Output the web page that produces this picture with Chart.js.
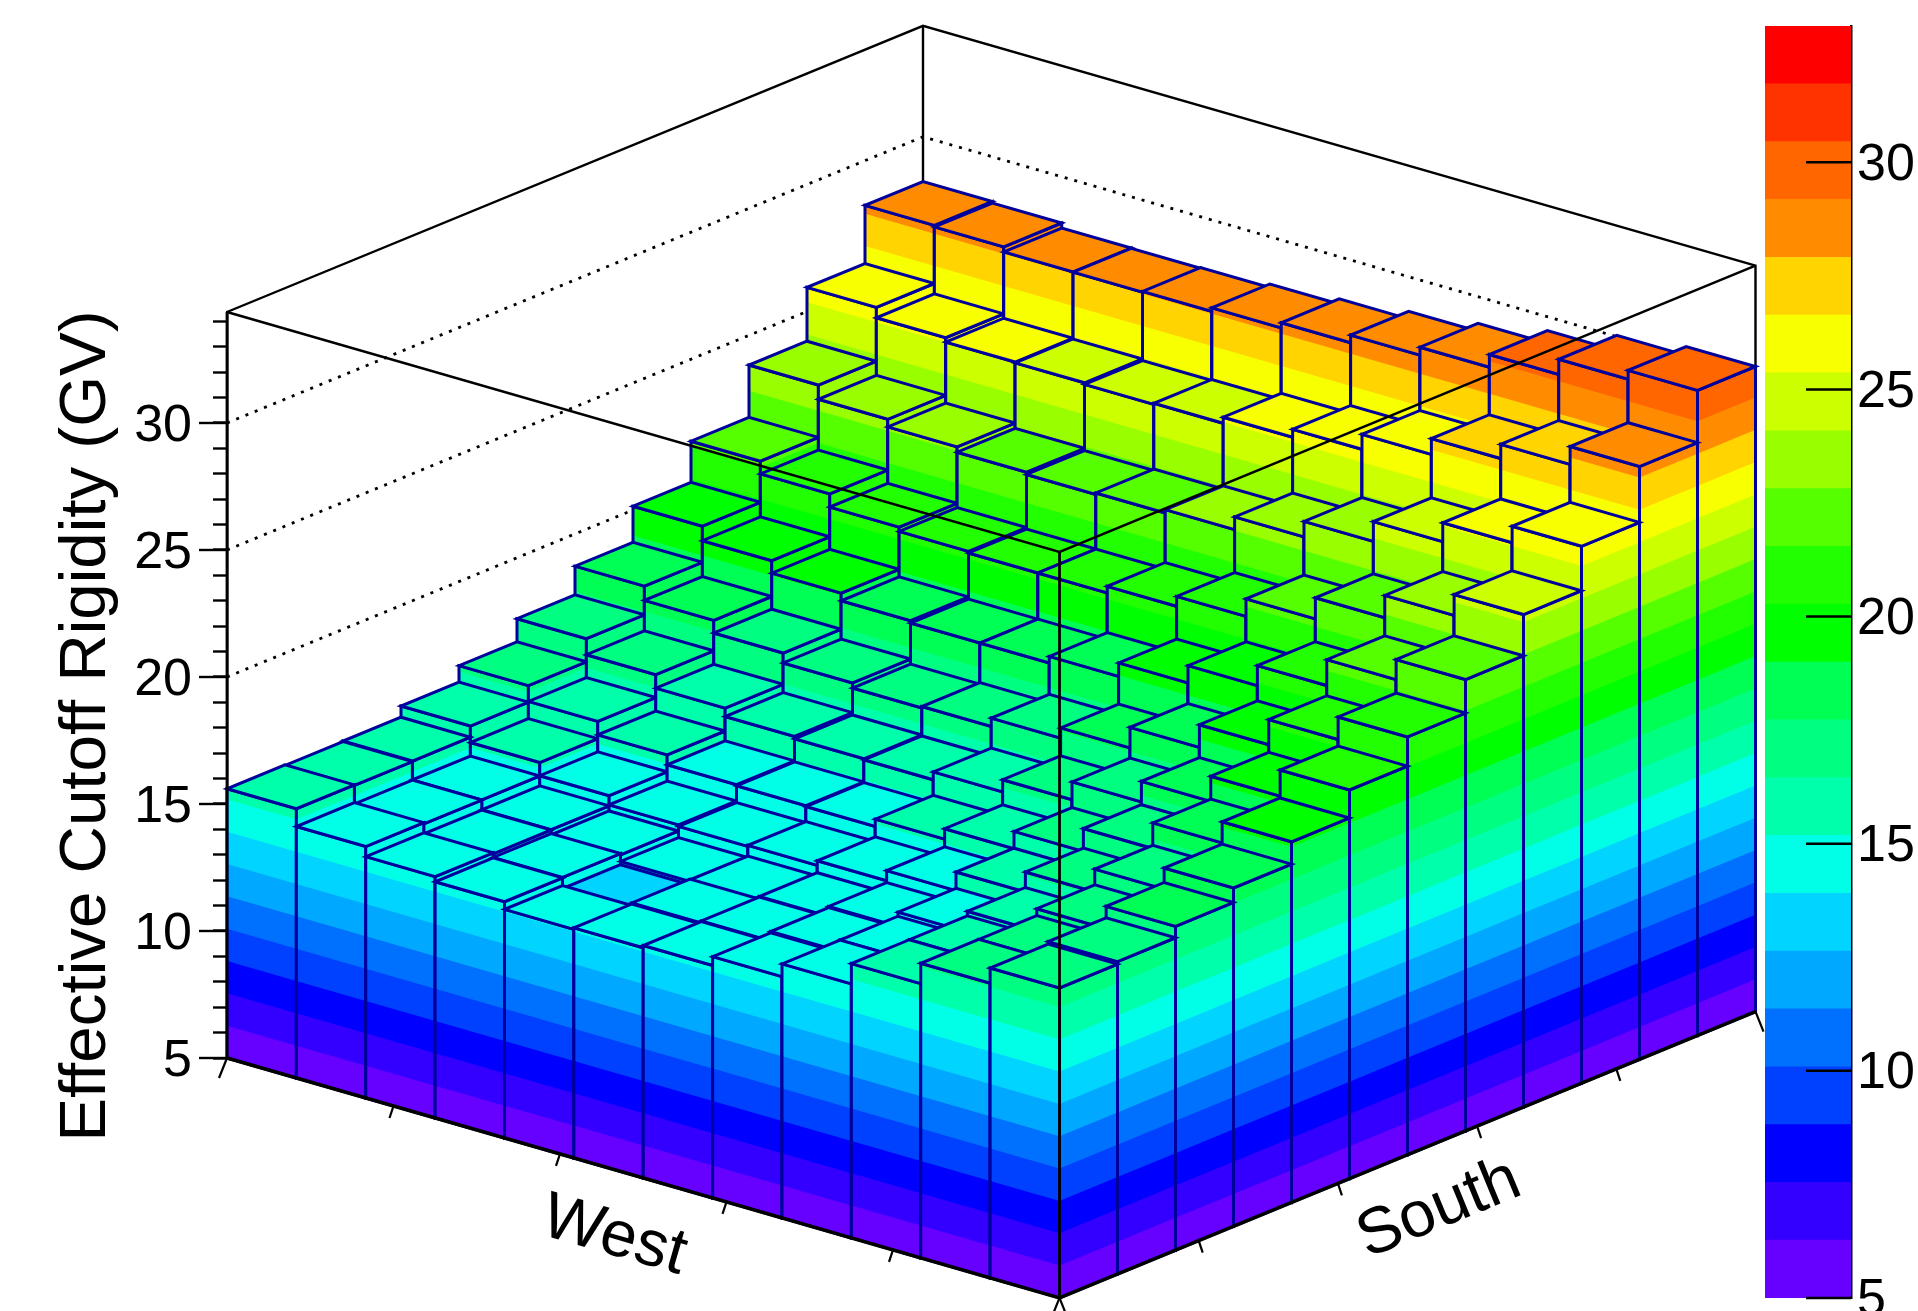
<!DOCTYPE html>
<html>
<head>
<meta charset="utf-8">
<style>
  html, body { margin: 0; background: #fff; }
  canvas { position: absolute; top: 0; }
  #lego { left: 0; }
  #palette { left: 1765px; }
</style>
<script src="https://cdn.jsdelivr.net/npm/chart.js@4"></script>
</head>
<body>
<canvas id="lego" width="1918" height="1311"></canvas>
<canvas id="palette" width="153" height="1311"></canvas>
<script>
// bar heights in GV, one list per South bin, West bin 0 first (front corner)
const south0 = [17.2, 16.6, 15.8, 15.0, 14.5, 14.15, 14.06, 14.0, 14.3, 14.5, 14.9, 15.6]
const south1 = [17.3, 16.6, 15.8, 15.0, 14.55, 14.18, 14.1, 13.88, 14.32, 14.46, 14.85, 15.58]
const south2 = [17.75, 16.87, 15.98, 15.16, 14.6, 14.2, 14.07, 14.01, 14.27, 14.47, 14.86, 15.6]
const south3 = [18.32, 17.49, 16.59, 15.8, 15.07, 14.67, 14.49, 14.45, 14.51, 14.87, 15.39, 16.04]
const south4 = [19.2, 18.37, 17.36, 16.46, 15.78, 15.37, 15.08, 15.11, 15.15, 15.54, 16.07, 16.69]
const south5 = [20.3, 19.27, 18.28, 17.47, 16.77, 16.29, 15.98, 16.02, 16.11, 16.44, 16.97, 17.6]
const south6 = [21.45, 20.56, 19.57, 18.68, 17.87, 17.47, 17.14, 17.08, 17.28, 17.67, 18.17, 18.73]
const south7 = [22.77, 21.98, 20.96, 20.17, 19.49, 18.96, 18.7, 18.7, 18.79, 19.09, 19.58, 20.15]
const south8 = [24.39, 23.57, 22.69, 21.86, 21.17, 20.78, 20.52, 20.52, 20.58, 20.75, 21.27, 21.77]
const south9 = [26.14, 25.49, 24.75, 23.97, 23.36, 22.86, 22.73, 22.67, 22.76, 22.97, 23.27, 23.83]
const south10 = [28.34, 27.64, 27.08, 26.46, 25.87, 25.56, 25.32, 25.28, 25.34, 25.37, 25.54, 25.95]
const south11 = [30.4, 30.05, 29.45, 28.95, 28.64, 28.34, 28.14, 28.0, 27.97, 27.98, 28.18, 28.24]
const rows = [south0, south1, south2, south3, south4, south5, south6, south7, south8, south9, south10, south11]

// palette, lowest band first
const bandColors = ['#6600ff', '#3300ff', '#0000ff', '#0040ff', '#0070ff', '#00a8ff', '#00d4ff', '#00ffe6',
  '#00ffaa', '#00ff80', '#00ff55', '#00ff00', '#22ff00', '#55ff00', '#99ff00', '#ccff00',
  '#f8ff00', '#ffd400', '#ff8c00', '#ff6600', '#ff3300', '#ff0000']
const zMin = 5
const paletteMax = 33
const boxTop = 34.37
const gridZ = [10, 15, 20, 25, 30]

const FONT = '"Liberation Sans", Arial, sans-serif'
const EDGE = '#00009c'
const nBins = 12
const bandStep = (paletteMax - zMin) / bandColors.length

// oblique view: how far one bin moves across the page and up the z scale
const cellWest = 69.375, cellSouth = 58
const liftWest = 0.787, liftSouth = 0.939

function bandOf(z) {
  return Math.min(bandColors.length - 1, Math.floor((z - zMin) / bandStep))
}

const legoPlugin = {
  id: 'lego',
  afterDraw(chart) {
    const ctx = chart.ctx
    const sx = chart.scales.x, sz = chart.scales.y
    const pt = (a, b, z) => [
      sx.getPixelForValue(cellWest * (nBins - a) + cellSouth * b),
      sz.getPixelForValue(z - liftWest * (nBins - a) + liftSouth * b)
    ]
    const poly = pts => {
      ctx.beginPath()
      pts.forEach((p, i) => i ? ctx.lineTo(p[0], p[1]) : ctx.moveTo(p[0], p[1]))
      ctx.closePath()
    }
    const line = (pts, w, dash) => {
      ctx.beginPath()
      pts.forEach((p, i) => i ? ctx.lineTo(p[0], p[1]) : ctx.moveTo(p[0], p[1]))
      ctx.strokeStyle = '#000'
      ctx.lineWidth = w
      ctx.setLineDash(dash || [])
      ctx.stroke()
      ctx.setLineDash([])
    }

    ctx.save()
    ctx.lineJoin = 'miter'

    // back walls
    line([pt(nBins, 0, boxTop), pt(nBins, nBins, boxTop), pt(0, nBins, boxTop), pt(0, nBins, zMin)], 2.4)
    line([pt(nBins, nBins, boxTop), pt(nBins, nBins, zMin)], 2.4)
    gridZ.forEach(z => line([pt(nBins, 0, z), pt(nBins, nBins, z), pt(0, nBins, z)], 2.8, [3, 7]))

    // bars, back to front
    const face = (p, q, h) => {
      for (let k = 0; k <= bandOf(h); k++) {
        const lo = zMin + k * bandStep
        poly([pt(p[0], p[1], lo), pt(q[0], q[1], lo), pt(q[0], q[1], h), pt(p[0], p[1], h)])
        ctx.fillStyle = bandColors[k]
        ctx.fill()
      }
      poly([pt(p[0], p[1], zMin), pt(q[0], q[1], zMin), pt(q[0], q[1], h), pt(p[0], p[1], h)])
      ctx.strokeStyle = EDGE
      ctx.lineWidth = 3
      ctx.stroke()
    }
    for (let a = nBins - 1; a >= 0; a--) {
      for (let b = nBins - 1; b >= 0; b--) {
        const h = rows[b][a]
        face([a + 1, b], [a, b], h)
        face([a, b], [a, b + 1], h)
        poly([pt(a + 1, b, h), pt(a, b, h), pt(a, b + 1, h), pt(a + 1, b + 1, h)])
        ctx.fillStyle = bandColors[bandOf(h)]
        ctx.fill()
        ctx.strokeStyle = EDGE
        ctx.lineWidth = 3
        ctx.stroke()
      }
    }

    // front of the box goes over the bars
    line([pt(nBins, 0, boxTop), pt(0, 0, boxTop), pt(0, nBins, boxTop)], 2.4)
    line([pt(0, 0, boxTop), pt(0, 0, zMin)], 2.8)
    line([pt(nBins, 0, zMin), pt(0, 0, zMin), pt(0, nBins, zMin)], 3.5)
    line([pt(nBins, 0, boxTop), pt(nBins, 0, zMin)], 2.8)

    // long ticks on the z axis
    sz.ticks.forEach(t => {
      if (t.value % 5 === 0) {
        const y = sz.getPixelForValue(t.value)
        line([[chart.chartArea.left - 28, y], [chart.chartArea.left, y]], 2.4)
      }
    })

    // ticks on the two floor axes, five divisions each; the corner ones are longer
    for (let i = 0; i <= 5; i++) {
      const long = i === 0 || i === 5
      const dx = long ? 8 : 4
      const dy = long ? 20 : 12
      const w = pt(nBins * i / 5, 0, zMin)
      line([w, [w[0] - dx, w[1] + dy]], 2.2)
      const s = pt(0, nBins * i / 5, zMin)
      line([s, [s[0] + dx, s[1] + dy]], 2.2)
    }

    // titles
    const label = (text, x, y, angle, size) => {
      ctx.save()
      ctx.translate(x, y)
      ctx.rotate(angle)
      ctx.font = size + 'px ' + FONT
      ctx.fillStyle = '#000'
      ctx.textAlign = 'center'
      ctx.textBaseline = 'alphabetic'
      ctx.fillText(text, 0, 0)
      ctx.restore()
    }
    label('Effective Cutoff Rigidity (GV)', 105, 726, -Math.PI / 2, 65.5)
    label('West', 609, 1254, Math.atan2(240, 832.5), 65)
    label('South', 1446, 1226, Math.atan2(-286, 696), 65)
    ctx.restore()
  }
}

new Chart(document.getElementById('lego'), {
  type: 'scatter',
  data: { datasets: [] },
  plugins: [legoPlugin],
  options: {
    responsive: false,
    animation: false,
    devicePixelRatio: 1,
    layout: { padding: { left: 0, right: 162, top: 312, bottom: 253 } },
    plugins: { legend: { display: false }, tooltip: { enabled: false } },
    scales: {
      x: { type: 'linear', display: false, min: 0, max: 1529 },
      y: {
        type: 'linear',
        min: zMin,
        max: boxTop,
        afterFit: s => { s.width = 227 },
        border: { display: true, color: '#000', width: 2.5 },
        grid: { drawOnChartArea: false, tickLength: 14, tickColor: '#000', tickWidth: 2.4 },
        ticks: {
          stepSize: 1,
          includeBounds: false,
          autoSkip: false,
          padding: 21,
          labelOffset: 4,
          color: '#000',
          font: { family: FONT, size: 52 },
          callback: v => (v % 5 === 0 ? String(v) : '')
        }
      }
    }
  }
})

// colour scale on the right
const paletteTicks = {
  id: 'paletteTicks',
  afterDraw(chart) {
    const ctx = chart.ctx, s = chart.scales.y, right = chart.chartArea.right
    ctx.save()
    ctx.strokeStyle = '#000'
    ctx.lineWidth = 2.5
    s.ticks.forEach(t => {
      const y = s.getPixelForValue(t.value)
      ctx.beginPath()
      ctx.moveTo(right - 45, y)
      ctx.lineTo(right, y)
      ctx.stroke()
    })
    ctx.restore()
  }
}

new Chart(document.getElementById('palette'), {
  type: 'bar',
  data: {
    labels: ['z'],
    datasets: bandColors.map((c, k) => ({
      data: [[zMin + k * bandStep, zMin + (k + 1) * bandStep]],
      backgroundColor: c,
      borderWidth: 0,
      grouped: false,
      barPercentage: 1,
      categoryPercentage: 1
    }))
  },
  plugins: [paletteTicks],
  options: {
    responsive: false,
    animation: false,
    devicePixelRatio: 1,
    layout: { padding: { left: 0, right: 0, top: 26, bottom: 13 } },
    plugins: { legend: { display: false }, tooltip: { enabled: false } },
    scales: {
      x: { display: false },
      y: {
        position: 'right',
        min: zMin,
        max: paletteMax,
        afterFit: s => { s.width = 67; s.paddingTop = 0; s.paddingBottom = 0 },
        border: { display: true, color: '#000', width: 2.5 },
        grid: { display: false, drawTicks: false },
        ticks: {
          stepSize: 5,
          includeBounds: false,
          padding: 6,
          labelOffset: 3,
          color: '#000',
          font: { family: FONT, size: 52 }
        }
      }
    }
  }
})
</script>
</body>
</html>
